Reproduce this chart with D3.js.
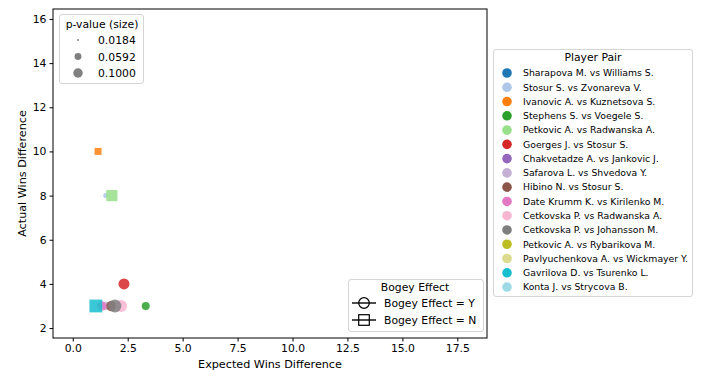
<!DOCTYPE html>
<html>
<head>
<meta charset="utf-8">
<script src="https://cdn.jsdelivr.net/npm/d3@7"></script>
<style>
  body { margin: 0; background: #fff; }
  text { font-family: "DejaVu Sans", sans-serif; fill: #000; }
</style>
</head>
<body>
<svg id="chart" width="701" height="370"></svg>
<script>
// player pairs (legend order) and their colours
const pairs = [
  'Sharapova M. vs Williams S.', 'Stosur S. vs Zvonareva V.', 'Ivanovic A. vs Kuznetsova S.',
  'Stephens S. vs Voegele S.', 'Petkovic A. vs Radwanska A.', 'Goerges J. vs Stosur S.',
  'Chakvetadze A. vs Jankovic J.', 'Safarova L. vs Shvedova Y.', 'Hibino N. vs Stosur S.',
  'Date Krumm K. vs Kirilenko M.', 'Cetkovska P. vs Radwanska A.', 'Cetkovska P. vs Johansson M.',
  'Petkovic A. vs Rybarikova M.', 'Pavlyuchenkova A. vs Wickmayer Y.', 'Gavrilova D. vs Tsurenko L.',
  'Konta J. vs Strycova B.'
];
const pairColors = ['#1f77b4', '#aec7e8', '#ff7f0e', '#2ca02c', '#98df8a', '#d62728', '#9467bd', '#c5b0d5',
  '#8c564b', '#e377c2', '#f7b6d2', '#7f7f7f', '#bcbd22', '#dbdb8d', '#17becf', '#9edae5'];

// values per pair (null = not visible in the plot)
const expectedDiff = [null, 1.5, 1.15, 3.32, 1.78, 2.33, null, 1.5, 1.75, 1.32, 2.2, 1.92, null, null, 1.05, null];
const actualDiff   = [null, 8, 10, 3, 8, 4, null, 3, 3, 3, 3, 3, null, null, 3, null];
const pValues      = [null, 0.028, 0.04, 0.048, 0.08, 0.078, null, 0.05, 0.07, 0.06, 0.09, 0.1, null, null, 0.1, null];
const bogey        = [null, 'Y', 'N', 'Y', 'N', 'Y', null, 'Y', 'Y', 'Y', 'Y', 'Y', null, null, 'N', null];

const sizeLegend = [0.0184, 0.0592, 0.1000];
const xTicks = [0, 2.5, 5, 7.5, 10, 12.5, 15, 17.5];
const yTicks = [2, 4, 6, 8, 10, 12, 14, 16];

const svg = d3.select('#chart');
const plot = { left: 53, right: 487, top: 9, bottom: 338 };
const fs = 10.8;

const x = d3.scaleLinear().domain([-0.9, 18.85]).range([plot.left, plot.right]);
const y = d3.scaleLinear().domain([1.55, 16.45]).range([plot.bottom, plot.top]);
// marker area grows linearly with p-value
const area = d3.scaleLinear().domain([0.0184, 0.1]).range([4, 90]);
const diam = p => Math.sqrt(area(p));
const plotScale = 1.35;

// axes
svg.append('g')
  .attr('transform', `translate(0,${plot.bottom})`)
  .call(d3.axisBottom(x).tickValues(xTicks).tickFormat(d3.format('.1f')).tickSize(3.5).tickPadding(3))
  .call(g => g.select('.domain').remove())
  .call(g => g.selectAll('text').attr('font-size', fs).style('font-family', 'DejaVu Sans'));

svg.append('g')
  .attr('transform', `translate(${plot.left},0)`)
  .call(d3.axisLeft(y).tickValues(yTicks).tickSize(3.5).tickPadding(3))
  .call(g => g.select('.domain').remove())
  .call(g => g.selectAll('text').attr('font-size', fs).style('font-family', 'DejaVu Sans'));

// points
const pts = pairs.map((name, i) => ({
  name, color: pairColors[i], x: expectedDiff[i], y: actualDiff[i], p: pValues[i], bogey: bogey[i]
})).filter(d => d.x !== null);

const gp = svg.append('g');
pts.forEach(d => {
  const s = diam(d.p) * plotScale;
  if (d.bogey === 'N') {
    gp.append('rect')
      .attr('x', x(d.x) - s / 2).attr('y', y(d.y) - s / 2)
      .attr('width', s).attr('height', s)
      .attr('fill', d.color).attr('fill-opacity', 0.85);
  } else {
    gp.append('circle')
      .attr('cx', x(d.x)).attr('cy', y(d.y)).attr('r', s / 2)
      .attr('fill', d.color).attr('fill-opacity', 0.85);
  }
});

// frame
svg.append('rect')
  .attr('x', plot.left).attr('y', plot.top)
  .attr('width', plot.right - plot.left).attr('height', plot.bottom - plot.top)
  .attr('fill', 'none').attr('stroke', '#000').attr('stroke-width', 1);

// axis labels
svg.append('text').attr('x', (plot.left + plot.right) / 2).attr('y', 368)
  .attr('text-anchor', 'middle').attr('font-size', 11.2).text('Expected Wins Difference');
svg.append('text')
  .attr('transform', `translate(26,${(plot.top + plot.bottom) / 2}) rotate(-90)`)
  .attr('text-anchor', 'middle').attr('font-size', 11.2).text('Actual Wins Difference');

// legend helper
function legendBox(x0, y0, w, h) {
  svg.append('rect').attr('x', x0).attr('y', y0).attr('width', w).attr('height', h)
    .attr('rx', 2.5).attr('fill', '#fff').attr('fill-opacity', 0.8)
    .attr('stroke', '#d5d5d5').attr('stroke-width', 1);
}

// p-value legend
legendBox(59.5, 14.5, 84, 69);
svg.append('text').attr('x', 102).attr('y', 28).attr('text-anchor', 'middle')
  .attr('font-size', fs).text('p-value (size)');
sizeLegend.forEach((p, i) => {
  const cy = 40 + i * 16.5;
  svg.append('circle').attr('cx', 78).attr('cy', cy).attr('r', diam(p) / 2).attr('fill', '#808080');
  svg.append('text').attr('x', 98).attr('y', cy + 4).attr('font-size', fs).text(p.toFixed(4));
});

// player pair legend
legendBox(493.5, 49.5, 199, 247);
svg.append('text').attr('x', 593).attr('y', 61).attr('text-anchor', 'middle')
  .attr('font-size', fs).text('Player Pair');
pairs.forEach((name, i) => {
  const cy = 73 + i * 14.27;
  svg.append('circle').attr('cx', 507).attr('cy', cy).attr('r', 4.8).attr('fill', pairColors[i]);
  svg.append('text').attr('x', 523).attr('y', cy + 3.3).attr('font-size', 9.3).text(name);
});

// bogey effect legend
legendBox(348.5, 279.5, 135, 52);
svg.append('text').attr('x', 415).attr('y', 291).attr('text-anchor', 'middle')
  .attr('font-size', fs).text('Bogey Effect');
['Y', 'N'].forEach((b, i) => {
  const cy = 303 + i * 17;
  svg.append('line').attr('x1', 352).attr('x2', 376).attr('y1', cy).attr('y2', cy)
    .attr('stroke', '#000').attr('stroke-width', 1.4);
  if (b === 'Y') {
    svg.append('circle').attr('cx', 364).attr('cy', cy).attr('r', 5.3)
      .attr('fill', 'none').attr('stroke', '#000').attr('stroke-width', 1.2);
  } else {
    svg.append('rect').attr('x', 358.7).attr('y', cy - 5.3).attr('width', 10.6).attr('height', 10.6)
      .attr('fill', 'none').attr('stroke', '#000').attr('stroke-width', 1.2);
  }
  svg.append('text').attr('x', 384).attr('y', cy + 4).attr('font-size', fs).text(`Bogey Effect = ${b}`);
});
</script>
</body>
</html>
